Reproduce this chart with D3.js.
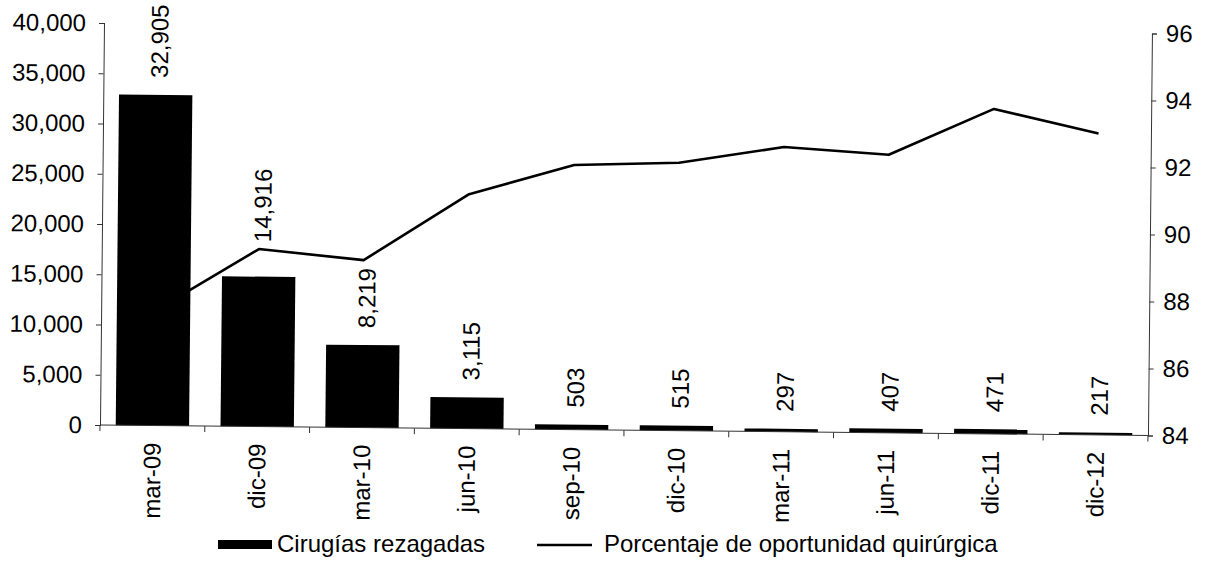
<!DOCTYPE html>
<html>
<head>
<meta charset="utf-8">
<script src="https://cdn.jsdelivr.net/npm/d3@7"></script>
<style>
  html, body { margin: 0; padding: 0; background: #fff; }
  svg { display: block; }
  text { font-family: "Liberation Sans", Arial, Helvetica, sans-serif; fill: #000; }
</style>
</head>
<body>
<svg id="chart" width="1206" height="563"></svg>
<script>
// Trimestres reportados
const categorias = ["mar-09", "dic-09", "mar-10", "jun-10", "sep-10", "dic-10", "mar-11", "jun-11", "dic-11", "dic-12"];
// Cirugías rezagadas (eje izquierdo)
const cirugiasRezagadas = [32905, 14916, 8219, 3115, 503, 515, 297, 407, 471, 217];
// Porcentaje de oportunidad quirúrgica (eje derecho)
const porcentajeOportunidad = [87.4, 89.3, 89.0, 91.0, 91.9, 92.0, 92.5, 92.3, 93.7, 93.0];
// Marcas de los ejes
const ticksIzquierdo = [0, 5000, 10000, 15000, 20000, 25000, 30000, 35000, 40000];
const ticksDerecho = [84, 86, 88, 90, 92, 94, 96];

const svg = d3.select("#chart");
const FONT = 24;

const origin = { x: 100, y: 425 };
const W = 1048, H = 402;

// plot group, slightly tilted like the printed page
const g = svg.append("g")
  .attr("transform", `translate(${origin.x},${origin.y}) rotate(0.57) translate(0,${-H})`);

const x = d3.scaleBand().domain(categorias).range([0, W]).paddingInner(0.3).paddingOuter(0.15);
const yL = d3.scaleLinear().domain([0, 40000]).range([H, 0]);
const yR = d3.scaleLinear().domain([84, 96]).range([H, 0]);

// line series (drawn first so the first bar covers its start)
const line = d3.line()
  .x((d, i) => x(categorias[i]) + x.bandwidth() / 2)
  .y(d => yR(d));
g.append("path")
  .datum(porcentajeOportunidad)
  .attr("fill", "none")
  .attr("stroke", "#000")
  .attr("stroke-width", 2.6)
  .attr("stroke-linejoin", "round")
  .attr("d", line);

// bars
g.selectAll("rect.bar")
  .data(cirugiasRezagadas)
  .join("rect")
  .attr("class", "bar")
  .attr("x", (d, i) => x(categorias[i]))
  .attr("width", x.bandwidth())
  .attr("y", d => yL(d))
  .attr("height", d => H - yL(d))
  .attr("fill", "#000");

// left axis
const axL = d3.axisLeft(yL).tickValues(ticksIzquierdo).tickFormat(d3.format(",")).tickSize(5).tickPadding(13);
const gL = g.append("g").call(axL);
// right axis
const axR = d3.axisRight(yR).tickValues(ticksDerecho).tickSize(5).tickPadding(9);
const gR = g.append("g").attr("transform", `translate(${W},0)`).call(axR);

[gL, gR].forEach(ax => {
  ax.select(".domain").attr("stroke", "#333").attr("stroke-width", 1);
  ax.selectAll(".tick line").attr("stroke", "#333");
  ax.selectAll(".tick text").attr("font-size", FONT).attr("fill", "#000")
    .attr("font-family", '"Liberation Sans", Arial, sans-serif');
});

// category axis
const gX = g.append("g").attr("transform", `translate(0,${H})`);
gX.append("line").attr("x1", 0).attr("x2", W).attr("stroke", "#333").attr("stroke-width", 1);
const bordes = d3.range(categorias.length + 1).map(i => i * x.step());
gX.selectAll("line.tick").data(bordes).join("line")
  .attr("class", "tick")
  .attr("x1", d => d).attr("x2", d => d)
  .attr("y1", 0).attr("y2", 6)
  .attr("stroke", "#333");
gX.selectAll("text.cat").data(categorias).join("text")
  .attr("class", "cat")
  .attr("font-size", FONT)
  .attr("text-anchor", "end")
  .attr("transform", d => `translate(${x(d) + x.bandwidth() / 2},17) rotate(-90)`)
  .attr("dy", "0.35em")
  .text(d => d);

// value labels; lifted above the line when they would cross it
const fmt = d3.format(",");
g.selectAll("text.val").data(cirugiasRezagadas).join("text")
  .attr("class", "val")
  .attr("font-size", FONT)
  .attr("text-anchor", "start")
  .attr("dy", "0.5em")
  .attr("transform", (d, i) => {
    const cx = x(categorias[i]) + x.bandwidth() / 2;
    const len = fmt(d).length * FONT * 0.53;
    let base = yL(d) - 17;
    const ly = yR(porcentajeOportunidad[i]);
    if (i > 0 && ly < base && ly > base - len) base = ly - 7;
    return `translate(${cx},${base}) rotate(-90)`;
  })
  .text(d => fmt(d));

// legend
const lg = svg.append("g");
lg.append("rect").attr("x", 218).attr("y", 540).attr("width", 54).attr("height", 9).attr("fill", "#000");
lg.append("text").attr("x", 277).attr("y", 552).attr("font-size", FONT).text("Cirugías rezagadas");
lg.append("line").attr("x1", 537).attr("x2", 592).attr("y1", 545).attr("y2", 545)
  .attr("stroke", "#000").attr("stroke-width", 2.4);
lg.append("text").attr("x", 604).attr("y", 552).attr("font-size", FONT).text("Porcentaje de oportunidad quirúrgica");
</script>
</body>
</html>
